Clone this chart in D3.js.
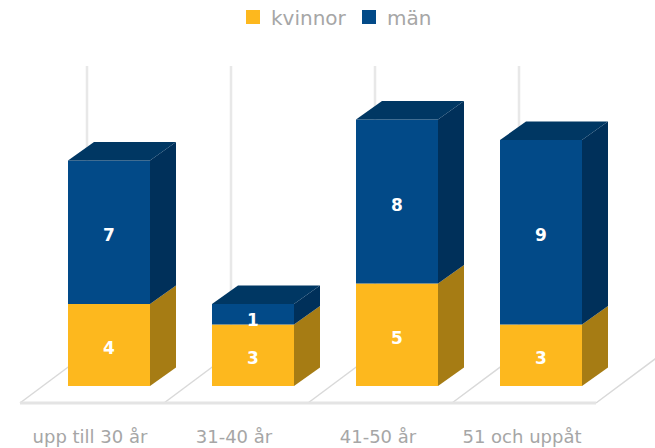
<!DOCTYPE html>
<html>
<head>
<meta charset="utf-8">
<script src="https://cdn.jsdelivr.net/npm/d3@7"></script>
<style>
  html, body { margin: 0; padding: 0; background: #fff; }
  svg { display: block; font-family: "DejaVu Sans", Verdana, sans-serif; }
</style>
</head>
<body>
<svg id="chart" width="655" height="448"></svg>
<script>
const categories = ["upp till 30 år", "31-40 år", "41-50 år", "51 och uppåt"];
const seriesNames = ["kvinnor", "män"];
const kvinnor = [4, 3, 5, 3];
const man = [7, 1, 8, 9];
const seriesColors = ["#fdb81e", "#024a88"];
const sideColors = ["#a67c14", "#00305a"];
const topColors = ["#b08416", "#003763"];

const svg = d3.select("#chart");

// layout
const floorFront = 403, floorDX = 67, floorDY = 50;
const barDX = 26, barDY = 18.5;
const barOffset = 48, barW = 82;

const x = d3.scaleBand().domain(categories).range([20, 596]).padding(0);
const y = d3.scaleLinear().domain([0, 13]).range([386, 119.5]);

// stacked data
const stack = d3.stack().keys([0, 1]).value((d, k) => d[k]);
const rows = categories.map((c, i) => ({ 0: kvinnor[i], 1: man[i], cat: c }));
const stacked = stack(rows);

// back wall vertical lines
const boundaries = categories.map(c => x(c)).concat([x.range()[1]]);
svg.append("g").selectAll("line").data(boundaries).join("line")
  .attr("x1", d => d + floorDX).attr("x2", d => d + floorDX)
  .attr("y1", 66).attr("y2", floorFront - floorDY)
  .attr("stroke", "#e8e8e8").attr("stroke-width", 2.5);

// floor
const fg = svg.append("g");
fg.selectAll("line.diag").data(boundaries).join("line").attr("class", "diag")
  .attr("x1", d => d).attr("y1", floorFront)
  .attr("x2", d => d + floorDX).attr("y2", floorFront - floorDY)
  .attr("stroke", "#d9d9d9").attr("stroke-width", 1.5);
fg.append("line")
  .attr("x1", x.range()[0]).attr("x2", x.range()[1])
  .attr("y1", floorFront).attr("y2", floorFront)
  .attr("stroke", "#e4e4e4").attr("stroke-width", 3);

// bars
const bars = svg.append("g");
stacked.forEach((layer, si) => {
  layer.forEach((seg, ci) => {
    const c = categories[ci];
    const left = x(c) + barOffset, right = left + barW;
    const yb = y(seg[0]), yt = y(seg[1]);
    const g = bars.append("g");
    g.append("rect").attr("x", left).attr("y", yt).attr("width", barW).attr("height", yb - yt)
      .attr("fill", seriesColors[si]);
    g.append("polygon")
      .attr("points", [[right, yt], [right + barDX, yt - barDY], [right + barDX, yb - barDY], [right, yb]].join(" "))
      .attr("fill", sideColors[si]);
    if (si === stacked.length - 1) {
      g.append("polygon")
        .attr("points", [[left, yt], [left + barDX, yt - barDY], [right + barDX, yt - barDY], [right, yt]].join(" "))
        .attr("fill", topColors[si]);
    }
    const v = seg[1] - seg[0];
    g.append("text")
      .attr("x", left + barW / 2)
      .attr("y", (yb + yt) / 2 + (v === 1 ? 7 : 4))
      .attr("text-anchor", "middle").attr("dominant-baseline", "middle")
      .attr("fill", "#ffffff").attr("font-weight", "bold").attr("font-size", 17)
      .text(v);
  });
});

// category labels
svg.append("g").selectAll("text").data(categories).join("text")
  .attr("x", d => x(d) + x.bandwidth() / 2 - 2)
  .attr("y", 443)
  .attr("text-anchor", "middle")
  .attr("fill", "#a6a6a6").attr("font-size", 18)
  .text(d => d);

// legend
const legendX = [246, 362];
const lg = svg.append("g");
seriesNames.forEach((n, i) => {
  lg.append("rect").attr("x", legendX[i]).attr("y", 10).attr("width", 14).attr("height", 14)
    .attr("fill", seriesColors[i]);
  lg.append("text").attr("x", legendX[i] + 25).attr("y", 25)
    .attr("fill", "#a6a6a6").attr("font-size", 20).text(n);
});
</script>
</body>
</html>
